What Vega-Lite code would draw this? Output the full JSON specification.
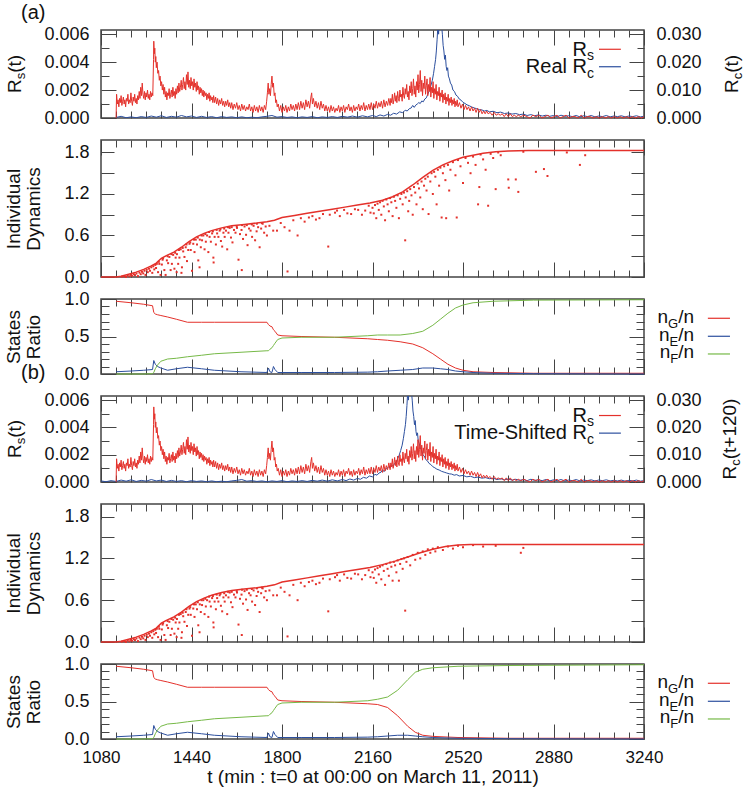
{
"$schema":"https://vega.github.io/schema/vega-lite/v6.json",
"background":"white",
"padding":{"left":4,"top":2,"right":0,"bottom":0},
"config":{
 "view":{"stroke":"#444","strokeWidth":1.5},
 "axis":{"domain":false,"grid":false,"tickColor":"#444","tickWidth":1,"labelFont":"Liberation Sans","labelFontSize":18,"labelColor":"#111","labelFlush":false,"labelOverlap":false,"titleFont":"Liberation Sans","titleFontSize":19,"titleFontWeight":"normal","titleColor":"#111","titleLineHeight":20},
 "scale":{"zero":false},
 "text":{"font":"Liberation Sans","fontSize":19,"color":"#111"}
},
"datasets":{
 "rs":[{"t":1140,"v":0},{"t":1142,"v":0.0017},{"t":1145,"v":0.0010},{"t":1148,"v":0.0013},{"t":1151,"v":0.0008},{"t":1154,"v":0.0014},{"t":1157,"v":0.0011},{"t":1160,"v":0.0016},{"t":1163,"v":0.0009},{"t":1166,"v":0.0012},{"t":1169,"v":0.0015},{"t":1172,"v":0.0010},{"t":1175,"v":0.0013},{"t":1178,"v":0.0008},{"t":1181,"v":0.0014},{"t":1184,"v":0.0012},{"t":1187,"v":0.0017},{"t":1190,"v":0.0010},{"t":1193,"v":0.0013},{"t":1196,"v":0.0011},{"t":1199,"v":0.0018},{"t":1202,"v":0.0012},{"t":1205,"v":0.0009},{"t":1208,"v":0.0015},{"t":1211,"v":0.0012},{"t":1214,"v":0.0017},{"t":1217,"v":0.0011},{"t":1220,"v":0.0014},{"t":1223,"v":0.0010},{"t":1226,"v":0.0016},{"t":1229,"v":0.0013},{"t":1232,"v":0.0019},{"t":1235,"v":0.0014},{"t":1238,"v":0.0022},{"t":1241,"v":0.0016},{"t":1244,"v":0.0025},{"t":1247,"v":0.0017},{"t":1250,"v":0.0014},{"t":1253,"v":0.0019},{"t":1256,"v":0.0013},{"t":1259,"v":0.0018},{"t":1262,"v":0.0015},{"t":1265,"v":0.0020},{"t":1268,"v":0.0014},{"t":1271,"v":0.0017},{"t":1274,"v":0.0013},{"t":1277,"v":0.0019},{"t":1280,"v":0.0015},{"t":1283,"v":0.0018},{"t":1286,"v":0.0016},{"t":1289,"v":0.0042},{"t":1290,"v":0.0055},{"t":1292,"v":0.0046},{"t":1294,"v":0.0050},{"t":1296,"v":0.0040},{"t":1298,"v":0.0044},{"t":1300,"v":0.0036},{"t":1303,"v":0.0040},{"t":1306,"v":0.0032},{"t":1309,"v":0.0034},{"t":1312,"v":0.0027},{"t":1315,"v":0.0030},{"t":1318,"v":0.0023},{"t":1321,"v":0.0026},{"t":1324,"v":0.0020},{"t":1327,"v":0.0024},{"t":1330,"v":0.0017},{"t":1333,"v":0.0022},{"t":1336,"v":0.0015},{"t":1339,"v":0.0019},{"t":1342,"v":0.0013},{"t":1345,"v":0.0018},{"t":1348,"v":0.0016},{"t":1351,"v":0.0021},{"t":1354,"v":0.0014},{"t":1357,"v":0.0017},{"t":1360,"v":0.0020},{"t":1363,"v":0.0015},{"t":1366,"v":0.0022},{"t":1369,"v":0.0016},{"t":1372,"v":0.0019},{"t":1375,"v":0.0014},{"t":1378,"v":0.0021},{"t":1381,"v":0.0017},{"t":1384,"v":0.0023},{"t":1387,"v":0.0018},{"t":1390,"v":0.0025},{"t":1393,"v":0.0019},{"t":1396,"v":0.0022},{"t":1399,"v":0.0027},{"t":1402,"v":0.0020},{"t":1405,"v":0.0024},{"t":1408,"v":0.0029},{"t":1411,"v":0.0021},{"t":1414,"v":0.0026},{"t":1417,"v":0.0020},{"t":1420,"v":0.0031},{"t":1423,"v":0.0024},{"t":1426,"v":0.0033},{"t":1429,"v":0.0022},{"t":1432,"v":0.0027},{"t":1435,"v":0.0021},{"t":1438,"v":0.0029},{"t":1441,"v":0.0023},{"t":1444,"v":0.0026},{"t":1447,"v":0.0020},{"t":1450,"v":0.0028},{"t":1453,"v":0.0022},{"t":1456,"v":0.0025},{"t":1459,"v":0.0019},{"t":1462,"v":0.0026},{"t":1465,"v":0.0020},{"t":1468,"v":0.0023},{"t":1471,"v":0.0017},{"t":1474,"v":0.0022},{"t":1477,"v":0.0018},{"t":1480,"v":0.0021},{"t":1483,"v":0.0016},{"t":1486,"v":0.0020},{"t":1489,"v":0.0015},{"t":1492,"v":0.0019},{"t":1495,"v":0.0016},{"t":1498,"v":0.0018},{"t":1501,"v":0.0013},{"t":1504,"v":0.0017},{"t":1507,"v":0.0014},{"t":1510,"v":0.0018},{"t":1513,"v":0.0012},{"t":1516,"v":0.0016},{"t":1519,"v":0.0013},{"t":1522,"v":0.0015},{"t":1525,"v":0.0011},{"t":1528,"v":0.0016},{"t":1532,"v":0.0011},{"t":1536,"v":0.0015},{"t":1540,"v":0.0010},{"t":1544,"v":0.0014},{"t":1548,"v":0.0009},{"t":1552,"v":0.0013},{"t":1556,"v":0.0010},{"t":1560,"v":0.0014},{"t":1564,"v":0.0009},{"t":1568,"v":0.0012},{"t":1572,"v":0.0008},{"t":1576,"v":0.0012},{"t":1580,"v":0.0009},{"t":1584,"v":0.0013},{"t":1588,"v":0.0008},{"t":1592,"v":0.0011},{"t":1596,"v":0.0007},{"t":1600,"v":0.0011},{"t":1605,"v":0.0006},{"t":1610,"v":0.0010},{"t":1615,"v":0.0007},{"t":1620,"v":0.0011},{"t":1625,"v":0.0006},{"t":1630,"v":0.0009},{"t":1635,"v":0.0005},{"t":1640,"v":0.0010},{"t":1645,"v":0.0006},{"t":1650,"v":0.0009},{"t":1655,"v":0.0005},{"t":1660,"v":0.0008},{"t":1665,"v":0.0006},{"t":1670,"v":0.0010},{"t":1675,"v":0.0005},{"t":1680,"v":0.0008},{"t":1685,"v":0.0004},{"t":1690,"v":0.0009},{"t":1695,"v":0.0005},{"t":1700,"v":0.0008},{"t":1705,"v":0.0004},{"t":1710,"v":0.0009},{"t":1715,"v":0.0005},{"t":1720,"v":0.0008},{"t":1725,"v":0.0004},{"t":1730,"v":0.0009},{"t":1735,"v":0.0006},{"t":1739,"v":0.0012},{"t":1742,"v":0.0018},{"t":1745,"v":0.0025},{"t":1748,"v":0.0017},{"t":1751,"v":0.0021},{"t":1754,"v":0.0016},{"t":1757,"v":0.0024},{"t":1760,"v":0.0030},{"t":1763,"v":0.0022},{"t":1766,"v":0.0025},{"t":1769,"v":0.0016},{"t":1772,"v":0.0018},{"t":1775,"v":0.0011},{"t":1778,"v":0.0013},{"t":1781,"v":0.0008},{"t":1785,"v":0.0010},{"t":1790,"v":0.0005},{"t":1795,"v":0.0009},{"t":1800,"v":0.0004},{"t":1805,"v":0.0008},{"t":1810,"v":0.0005},{"t":1815,"v":0.0009},{"t":1820,"v":0.0004},{"t":1825,"v":0.0008},{"t":1830,"v":0.0005},{"t":1835,"v":0.0010},{"t":1840,"v":0.0006},{"t":1845,"v":0.0009},{"t":1850,"v":0.0005},{"t":1855,"v":0.0010},{"t":1860,"v":0.0006},{"t":1865,"v":0.0011},{"t":1870,"v":0.0006},{"t":1875,"v":0.0012},{"t":1880,"v":0.0007},{"t":1885,"v":0.0011},{"t":1890,"v":0.0006},{"t":1895,"v":0.0013},{"t":1900,"v":0.0008},{"t":1905,"v":0.0012},{"t":1910,"v":0.0007},{"t":1915,"v":0.0015},{"t":1918,"v":0.0018},{"t":1921,"v":0.0010},{"t":1925,"v":0.0014},{"t":1930,"v":0.0008},{"t":1935,"v":0.0012},{"t":1940,"v":0.0007},{"t":1945,"v":0.0011},{"t":1950,"v":0.0006},{"t":1955,"v":0.0012},{"t":1960,"v":0.0007},{"t":1965,"v":0.0010},{"t":1970,"v":0.0005},{"t":1975,"v":0.0009},{"t":1980,"v":0.0005},{"t":1985,"v":0.0008},{"t":1990,"v":0.0004},{"t":1995,"v":0.0009},{"t":2000,"v":0.0005},{"t":2005,"v":0.0008},{"t":2010,"v":0.0004},{"t":2015,"v":0.0007},{"t":2020,"v":0.0005},{"t":2025,"v":0.0009},{"t":2030,"v":0.0004},{"t":2035,"v":0.0008},{"t":2040,"v":0.0005},{"t":2045,"v":0.0009},{"t":2050,"v":0.0004},{"t":2055,"v":0.0008},{"t":2060,"v":0.0006},{"t":2065,"v":0.0010},{"t":2070,"v":0.0005},{"t":2075,"v":0.0008},{"t":2080,"v":0.0004},{"t":2085,"v":0.0009},{"t":2090,"v":0.0005},{"t":2095,"v":0.0008},{"t":2100,"v":0.0006},{"t":2105,"v":0.0010},{"t":2110,"v":0.0005},{"t":2115,"v":0.0009},{"t":2120,"v":0.0006},{"t":2125,"v":0.0011},{"t":2130,"v":0.0005},{"t":2135,"v":0.0009},{"t":2140,"v":0.0006},{"t":2145,"v":0.0010},{"t":2150,"v":0.0006},{"t":2155,"v":0.0011},{"t":2160,"v":0.0006},{"t":2165,"v":0.0010},{"t":2170,"v":0.0007},{"t":2175,"v":0.0012},{"t":2180,"v":0.0007},{"t":2185,"v":0.0011},{"t":2190,"v":0.0008},{"t":2195,"v":0.0012},{"t":2200,"v":0.0007},{"t":2205,"v":0.0013},{"t":2210,"v":0.0008},{"t":2215,"v":0.0012},{"t":2220,"v":0.0009},{"t":2225,"v":0.0014},{"t":2230,"v":0.0009},{"t":2233,"v":0.0014},{"t":2236,"v":0.0011},{"t":2239,"v":0.0017},{"t":2242,"v":0.0010},{"t":2245,"v":0.0013},{"t":2248,"v":0.0018},{"t":2251,"v":0.0012},{"t":2254,"v":0.0016},{"t":2257,"v":0.0011},{"t":2260,"v":0.0019},{"t":2263,"v":0.0014},{"t":2266,"v":0.0012},{"t":2269,"v":0.0020},{"t":2272,"v":0.0015},{"t":2275,"v":0.0017},{"t":2278,"v":0.0012},{"t":2281,"v":0.0022},{"t":2284,"v":0.0016},{"t":2287,"v":0.0014},{"t":2290,"v":0.0021},{"t":2293,"v":0.0017},{"t":2296,"v":0.0024},{"t":2299,"v":0.0015},{"t":2302,"v":0.0019},{"t":2305,"v":0.0013},{"t":2308,"v":0.0023},{"t":2311,"v":0.0018},{"t":2314,"v":0.0026},{"t":2317,"v":0.0016},{"t":2320,"v":0.0021},{"t":2323,"v":0.0028},{"t":2326,"v":0.0017},{"t":2329,"v":0.0023},{"t":2332,"v":0.0015},{"t":2335,"v":0.0026},{"t":2338,"v":0.0020},{"t":2341,"v":0.0031},{"t":2344,"v":0.0018},{"t":2347,"v":0.0024},{"t":2350,"v":0.0034},{"t":2353,"v":0.0019},{"t":2356,"v":0.0027},{"t":2359,"v":0.0016},{"t":2362,"v":0.0025},{"t":2365,"v":0.0021},{"t":2368,"v":0.0030},{"t":2371,"v":0.0017},{"t":2374,"v":0.0023},{"t":2377,"v":0.0028},{"t":2380,"v":0.0016},{"t":2383,"v":0.0024},{"t":2386,"v":0.0019},{"t":2389,"v":0.0029},{"t":2392,"v":0.0015},{"t":2395,"v":0.0022},{"t":2398,"v":0.0018},{"t":2401,"v":0.0026},{"t":2404,"v":0.0014},{"t":2407,"v":0.0021},{"t":2410,"v":0.0017},{"t":2413,"v":0.0024},{"t":2416,"v":0.0013},{"t":2419,"v":0.0019},{"t":2422,"v":0.0016},{"t":2425,"v":0.0022},{"t":2428,"v":0.0012},{"t":2431,"v":0.0018},{"t":2434,"v":0.0015},{"t":2437,"v":0.0020},{"t":2440,"v":0.0011},{"t":2443,"v":0.0017},{"t":2446,"v":0.0013},{"t":2449,"v":0.0018},{"t":2452,"v":0.0010},{"t":2455,"v":0.0015},{"t":2458,"v":0.0012},{"t":2461,"v":0.0017},{"t":2464,"v":0.0009},{"t":2467,"v":0.0014},{"t":2470,"v":0.0011},{"t":2473,"v":0.0015},{"t":2476,"v":0.0009},{"t":2479,"v":0.0013},{"t":2482,"v":0.0010},{"t":2485,"v":0.0014},{"t":2488,"v":0.0008},{"t":2491,"v":0.0012},{"t":2494,"v":0.0009},{"t":2497,"v":0.0013},{"t":2500,"v":0.0008},{"t":2506,"v":0.0011},{"t":2512,"v":0.0007},{"t":2518,"v":0.0010},{"t":2524,"v":0.0006},{"t":2530,"v":0.0009},{"t":2536,"v":0.0006},{"t":2542,"v":0.0008},{"t":2548,"v":0.0005},{"t":2554,"v":0.0008},{"t":2560,"v":0.0005},{"t":2566,"v":0.0007},{"t":2572,"v":0.0004},{"t":2578,"v":0.0007},{"t":2584,"v":0.0004},{"t":2590,"v":0.0006},{"t":2596,"v":0.0003},{"t":2602,"v":0.0005},{"t":2608,"v":0.0003},{"t":2614,"v":0.0005},{"t":2620,"v":0.0003},{"t":2628,"v":0.0004},{"t":2636,"v":0.0002},{"t":2644,"v":0.0004},{"t":2652,"v":0.0002},{"t":2660,"v":0.0003},{"t":2668,"v":0.0002},{"t":2676,"v":0.0003},{"t":2684,"v":0.0001},{"t":2692,"v":0.0003},{"t":2700,"v":0.0001},{"t":2708,"v":0.0003},{"t":2716,"v":0.0001},{"t":2724,"v":0.0002},{"t":2732,"v":0.0001},{"t":2740,"v":0.0002},{"t":2750,"v":0.0001},{"t":2762,"v":0.0002},{"t":2774,"v":0.0001},{"t":2786,"v":0.0000},{"t":2798,"v":0.0002},{"t":2810,"v":0.0001},{"t":2822,"v":0.0002},{"t":2834,"v":0.0000},{"t":2846,"v":0.0001},{"t":2858,"v":0.0002},{"t":2870,"v":0.0000},{"t":2882,"v":0.0001},{"t":2894,"v":0.0002},{"t":2906,"v":0.0000},{"t":2918,"v":0.0001},{"t":2930,"v":0.0002},{"t":2942,"v":0.0000},{"t":2954,"v":0.0001},{"t":2966,"v":0.0001},{"t":2978,"v":0.0000},{"t":2990,"v":0.0002},{"t":3002,"v":0.0000},{"t":3014,"v":0.0001},{"t":3026,"v":0.0001},{"t":3038,"v":0.0000},{"t":3050,"v":0.0001},{"t":3062,"v":0.0000},{"t":3074,"v":0.0001},{"t":3086,"v":0.0000},{"t":3098,"v":0.0001},{"t":3110,"v":0.0000},{"t":3122,"v":0.0001},{"t":3134,"v":0.0000},{"t":3146,"v":0.0001},{"t":3158,"v":0.0000},{"t":3170,"v":0.0001},{"t":3182,"v":0.0000},{"t":3194,"v":0.0001},{"t":3206,"v":0.0000},{"t":3218,"v":0.0001},{"t":3230,"v":0.0000},{"t":3240,"v":0.0001}],
 "rca":[{"t":1140,"v":0.0002},{"t":1160,"v":0.0006},{"t":1180,"v":0.0001},{"t":1200,"v":0.0004},{"t":1220,"v":0.0001},{"t":1240,"v":0.0005},{"t":1260,"v":0.0002},{"t":1280,"v":0.0007},{"t":1300,"v":0.0003},{"t":1320,"v":0.0008},{"t":1340,"v":0.0002},{"t":1360,"v":0.0006},{"t":1380,"v":0.0003},{"t":1400,"v":0.0009},{"t":1420,"v":0.0004},{"t":1440,"v":0.0007},{"t":1460,"v":0.0002},{"t":1480,"v":0.0006},{"t":1500,"v":0.0002},{"t":1520,"v":0.0005},{"t":1540,"v":0.0001},{"t":1560,"v":0.0005},{"t":1580,"v":0.0002},{"t":1600,"v":0.0004},{"t":1620,"v":0.0001},{"t":1640,"v":0.0004},{"t":1660,"v":0.0001},{"t":1680,"v":0.0003},{"t":1700,"v":0.0001},{"t":1720,"v":0.0004},{"t":1740,"v":0.0006},{"t":1760,"v":0.0009},{"t":1780,"v":0.0003},{"t":1800,"v":0.0005},{"t":1820,"v":0.0002},{"t":1840,"v":0.0004},{"t":1860,"v":0.0001},{"t":1880,"v":0.0004},{"t":1900,"v":0.0002},{"t":1920,"v":0.0005},{"t":1940,"v":0.0001},{"t":1960,"v":0.0004},{"t":1980,"v":0.0002},{"t":2000,"v":0.0005},{"t":2020,"v":0.0002},{"t":2040,"v":0.0006},{"t":2060,"v":0.0003},{"t":2080,"v":0.0007},{"t":2100,"v":0.0003},{"t":2120,"v":0.0008},{"t":2140,"v":0.0004},{"t":2160,"v":0.0009},{"t":2175,"v":0.0005},{"t":2190,"v":0.0011},{"t":2205,"v":0.0007},{"t":2220,"v":0.0013},{"t":2232,"v":0.0010},{"t":2244,"v":0.0017},{"t":2256,"v":0.0014},{"t":2268,"v":0.0022},{"t":2280,"v":0.0019},{"t":2290,"v":0.0028},{"t":2298,"v":0.0025},{"t":2306,"v":0.0033},{"t":2314,"v":0.0036},{"t":2320,"v":0.0045},{"t":2326,"v":0.0038},{"t":2332,"v":0.0046},{"t":2338,"v":0.0050},{"t":2344,"v":0.0055},{"t":2350,"v":0.0052},{"t":2356,"v":0.0061},{"t":2362,"v":0.0058},{"t":2368,"v":0.0068},{"t":2374,"v":0.0072},{"t":2380,"v":0.0085},{"t":2386,"v":0.0098},{"t":2392,"v":0.0115},{"t":2398,"v":0.0135},{"t":2403,"v":0.0160},{"t":2407,"v":0.0185},{"t":2411,"v":0.0210},{"t":2414,"v":0.0240},{"t":2417,"v":0.0280},{"t":2420,"v":0.0330},{"t":2423,"v":0.0300},{"t":2426,"v":0.0360},{"t":2429,"v":0.0320},{"t":2432,"v":0.0400},{"t":2435,"v":0.0330},{"t":2438,"v":0.0300},{"t":2441,"v":0.0260},{"t":2444,"v":0.0240},{"t":2447,"v":0.0210},{"t":2450,"v":0.0225},{"t":2453,"v":0.0185},{"t":2456,"v":0.0170},{"t":2459,"v":0.0180},{"t":2462,"v":0.0150},{"t":2466,"v":0.0140},{"t":2470,"v":0.0125},{"t":2475,"v":0.0118},{"t":2480,"v":0.0100},{"t":2486,"v":0.0095},{"t":2492,"v":0.0082},{"t":2498,"v":0.0078},{"t":2505,"v":0.0068},{"t":2512,"v":0.0064},{"t":2520,"v":0.0056},{"t":2528,"v":0.0052},{"t":2536,"v":0.0047},{"t":2545,"v":0.0044},{"t":2555,"v":0.0039},{"t":2565,"v":0.0036},{"t":2575,"v":0.0033},{"t":2585,"v":0.0030},{"t":2595,"v":0.0029},{"t":2605,"v":0.0025},{"t":2615,"v":0.0027},{"t":2625,"v":0.0022},{"t":2640,"v":0.0024},{"t":2655,"v":0.0019},{"t":2670,"v":0.0021},{"t":2685,"v":0.0016},{"t":2700,"v":0.0018},{"t":2715,"v":0.0014},{"t":2730,"v":0.0016},{"t":2745,"v":0.0012},{"t":2760,"v":0.0014},{"t":2775,"v":0.0009},{"t":2790,"v":0.0012},{"t":2805,"v":0.0008},{"t":2820,"v":0.0011},{"t":2835,"v":0.0007},{"t":2850,"v":0.0010},{"t":2865,"v":0.0006},{"t":2880,"v":0.0009},{"t":2895,"v":0.0005},{"t":2910,"v":0.0010},{"t":2925,"v":0.0006},{"t":2940,"v":0.0008},{"t":2955,"v":0.0005},{"t":2970,"v":0.0009},{"t":2985,"v":0.0004},{"t":3000,"v":0.0008},{"t":3015,"v":0.0005},{"t":3030,"v":0.0009},{"t":3045,"v":0.0004},{"t":3060,"v":0.0007},{"t":3075,"v":0.0005},{"t":3090,"v":0.0009},{"t":3105,"v":0.0004},{"t":3120,"v":0.0007},{"t":3135,"v":0.0005},{"t":3150,"v":0.0008},{"t":3165,"v":0.0004},{"t":3180,"v":0.0007},{"t":3195,"v":0.0005},{"t":3210,"v":0.0008},{"t":3225,"v":0.0004},{"t":3240,"v":0.0006}],
 "rcb":[{"t":1080,"v":0.0004},{"t":1100,"v":0.0001},{"t":1120,"v":0.0005},{"t":1140,"v":0.0002},{"t":1160,"v":0.0007},{"t":1180,"v":0.0003},{"t":1200,"v":0.0008},{"t":1220,"v":0.0002},{"t":1240,"v":0.0006},{"t":1260,"v":0.0003},{"t":1280,"v":0.0009},{"t":1300,"v":0.0004},{"t":1320,"v":0.0007},{"t":1340,"v":0.0002},{"t":1360,"v":0.0006},{"t":1380,"v":0.0002},{"t":1400,"v":0.0005},{"t":1420,"v":0.0001},{"t":1440,"v":0.0005},{"t":1460,"v":0.0002},{"t":1480,"v":0.0004},{"t":1500,"v":0.0001},{"t":1520,"v":0.0004},{"t":1540,"v":0.0001},{"t":1560,"v":0.0003},{"t":1580,"v":0.0001},{"t":1600,"v":0.0004},{"t":1620,"v":0.0006},{"t":1640,"v":0.0009},{"t":1660,"v":0.0003},{"t":1680,"v":0.0005},{"t":1700,"v":0.0002},{"t":1720,"v":0.0004},{"t":1740,"v":0.0001},{"t":1760,"v":0.0004},{"t":1780,"v":0.0002},{"t":1800,"v":0.0005},{"t":1820,"v":0.0001},{"t":1840,"v":0.0004},{"t":1860,"v":0.0002},{"t":1880,"v":0.0005},{"t":1900,"v":0.0002},{"t":1920,"v":0.0006},{"t":1940,"v":0.0003},{"t":1960,"v":0.0007},{"t":1980,"v":0.0003},{"t":2000,"v":0.0008},{"t":2020,"v":0.0004},{"t":2040,"v":0.0009},{"t":2055,"v":0.0005},{"t":2070,"v":0.0011},{"t":2085,"v":0.0007},{"t":2100,"v":0.0013},{"t":2112,"v":0.0010},{"t":2124,"v":0.0017},{"t":2136,"v":0.0014},{"t":2148,"v":0.0022},{"t":2160,"v":0.0019},{"t":2170,"v":0.0028},{"t":2178,"v":0.0025},{"t":2186,"v":0.0033},{"t":2194,"v":0.0036},{"t":2200,"v":0.0045},{"t":2206,"v":0.0038},{"t":2212,"v":0.0046},{"t":2218,"v":0.0050},{"t":2224,"v":0.0055},{"t":2230,"v":0.0052},{"t":2236,"v":0.0061},{"t":2242,"v":0.0058},{"t":2248,"v":0.0068},{"t":2254,"v":0.0072},{"t":2260,"v":0.0085},{"t":2266,"v":0.0098},{"t":2272,"v":0.0115},{"t":2278,"v":0.0135},{"t":2283,"v":0.0160},{"t":2287,"v":0.0185},{"t":2291,"v":0.0210},{"t":2294,"v":0.0240},{"t":2297,"v":0.0280},{"t":2300,"v":0.0330},{"t":2303,"v":0.0300},{"t":2306,"v":0.0360},{"t":2309,"v":0.0320},{"t":2312,"v":0.0400},{"t":2315,"v":0.0330},{"t":2318,"v":0.0300},{"t":2321,"v":0.0260},{"t":2324,"v":0.0240},{"t":2327,"v":0.0210},{"t":2330,"v":0.0225},{"t":2333,"v":0.0185},{"t":2336,"v":0.0170},{"t":2339,"v":0.0180},{"t":2342,"v":0.0150},{"t":2346,"v":0.0140},{"t":2350,"v":0.0125},{"t":2355,"v":0.0118},{"t":2360,"v":0.0100},{"t":2366,"v":0.0095},{"t":2372,"v":0.0082},{"t":2378,"v":0.0078},{"t":2385,"v":0.0068},{"t":2392,"v":0.0064},{"t":2400,"v":0.0056},{"t":2408,"v":0.0052},{"t":2416,"v":0.0047},{"t":2425,"v":0.0044},{"t":2435,"v":0.0039},{"t":2445,"v":0.0036},{"t":2455,"v":0.0033},{"t":2465,"v":0.0030},{"t":2475,"v":0.0029},{"t":2485,"v":0.0025},{"t":2495,"v":0.0027},{"t":2505,"v":0.0022},{"t":2520,"v":0.0024},{"t":2535,"v":0.0019},{"t":2550,"v":0.0021},{"t":2565,"v":0.0016},{"t":2580,"v":0.0018},{"t":2595,"v":0.0014},{"t":2610,"v":0.0016},{"t":2625,"v":0.0012},{"t":2640,"v":0.0014},{"t":2655,"v":0.0009},{"t":2670,"v":0.0012},{"t":2685,"v":0.0008},{"t":2700,"v":0.0011},{"t":2715,"v":0.0007},{"t":2730,"v":0.0010},{"t":2745,"v":0.0006},{"t":2760,"v":0.0009},{"t":2775,"v":0.0005},{"t":2790,"v":0.0010},{"t":2805,"v":0.0006},{"t":2820,"v":0.0008},{"t":2835,"v":0.0005},{"t":2850,"v":0.0009},{"t":2865,"v":0.0004},{"t":2880,"v":0.0008},{"t":2895,"v":0.0005},{"t":2910,"v":0.0009},{"t":2925,"v":0.0004},{"t":2940,"v":0.0007},{"t":2955,"v":0.0005},{"t":2970,"v":0.0009},{"t":2985,"v":0.0004},{"t":3000,"v":0.0007},{"t":3015,"v":0.0005},{"t":3030,"v":0.0008},{"t":3045,"v":0.0004},{"t":3060,"v":0.0007},{"t":3075,"v":0.0005},{"t":3090,"v":0.0008},{"t":3105,"v":0.0004},{"t":3120,"v":0.0006},{"t":3135,"v":0.0004},{"t":3150,"v":0.0007},{"t":3165,"v":0.0003},{"t":3180,"v":0.0006},{"t":3195,"v":0.0004},{"t":3210,"v":0.0007},{"t":3225,"v":0.0003},{"t":3240,"v":0.0005}],
 "idaCurve":[{"t":1080,"v":0},{"t":1140,"v":0},{"t":1160,"v":0.01},{"t":1190,"v":0.04},{"t":1220,"v":0.07},{"t":1250,"v":0.11},{"t":1280,"v":0.16},{"t":1300,"v":0.2},{"t":1320,"v":0.27},{"t":1340,"v":0.31},{"t":1370,"v":0.36},{"t":1400,"v":0.43},{"t":1430,"v":0.51},{"t":1460,"v":0.58},{"t":1490,"v":0.63},{"t":1520,"v":0.67},{"t":1560,"v":0.71},{"t":1600,"v":0.74},{"t":1650,"v":0.76},{"t":1700,"v":0.78},{"t":1740,"v":0.8},{"t":1770,"v":0.82},{"t":1800,"v":0.86},{"t":1850,"v":0.89},{"t":1900,"v":0.92},{"t":1950,"v":0.95},{"t":2000,"v":0.98},{"t":2050,"v":1.01},{"t":2100,"v":1.04},{"t":2150,"v":1.07},{"t":2200,"v":1.11},{"t":2240,"v":1.16},{"t":2280,"v":1.23},{"t":2320,"v":1.33},{"t":2360,"v":1.44},{"t":2400,"v":1.54},{"t":2440,"v":1.62},{"t":2480,"v":1.68},{"t":2520,"v":1.73},{"t":2560,"v":1.76},{"t":2600,"v":1.79},{"t":2650,"v":1.81},{"t":2700,"v":1.82},{"t":2780,"v":1.83},{"t":3240,"v":1.83}],
 "idbCurve":[{"t":1080,"v":0},{"t":1140,"v":0},{"t":1160,"v":0.01},{"t":1190,"v":0.04},{"t":1220,"v":0.07},{"t":1250,"v":0.11},{"t":1280,"v":0.16},{"t":1300,"v":0.2},{"t":1320,"v":0.27},{"t":1340,"v":0.31},{"t":1370,"v":0.36},{"t":1400,"v":0.43},{"t":1430,"v":0.51},{"t":1460,"v":0.58},{"t":1490,"v":0.63},{"t":1520,"v":0.67},{"t":1560,"v":0.71},{"t":1600,"v":0.74},{"t":1650,"v":0.76},{"t":1700,"v":0.78},{"t":1740,"v":0.8},{"t":1770,"v":0.82},{"t":1800,"v":0.86},{"t":1850,"v":0.89},{"t":1900,"v":0.92},{"t":1950,"v":0.95},{"t":2000,"v":0.98},{"t":2050,"v":1.01},{"t":2100,"v":1.04},{"t":2150,"v":1.07},{"t":2200,"v":1.11},{"t":2250,"v":1.16},{"t":2300,"v":1.22},{"t":2350,"v":1.28},{"t":2400,"v":1.33},{"t":2450,"v":1.37},{"t":2500,"v":1.39},{"t":2550,"v":1.4},{"t":3240,"v":1.4}],
 "idEarly":[{"t":1163,"v":0.004},{"t":1172,"v":0.012},{"t":1179,"v":0.0},{"t":1186,"v":0.022},{"t":1193,"v":0.01},{"t":1199,"v":0.03},{"t":1204,"v":0.017},{"t":1210,"v":0.042},{"t":1215,"v":0.028},{"t":1221,"v":0.05},{"t":1227,"v":0.013},{"t":1233,"v":0.064},{"t":1238,"v":0.04},{"t":1243,"v":0.075},{"t":1248,"v":0.052},{"t":1253,"v":0.09},{"t":1257,"v":0.03},{"t":1262,"v":0.105},{"t":1266,"v":0.07},{"t":1271,"v":0.12},{"t":1275,"v":0.09},{"t":1280,"v":0.14},{"t":1284,"v":0.06},{"t":1288,"v":0.155},{"t":1292,"v":0.11},{"t":1296,"v":0.175},{"t":1299,"v":0.13},{"t":1302,"v":0.19},{"t":1307,"v":0.07},{"t":1310,"v":0.22},{"t":1312,"v":0.19},{"t":1317,"v":0.03},{"t":1322,"v":0.18},{"t":1325,"v":0.25},{"t":1327,"v":0.27},{"t":1332,"v":0.1},{"t":1337,"v":0.03},{"t":1342,"v":0.24},{"t":1345,"v":0.3},{"t":1347,"v":0.2},{"t":1352,"v":0.29},{"t":1357,"v":0.1},{"t":1360,"v":0.33},{"t":1362,"v":0.19},{"t":1367,"v":0.32},{"t":1372,"v":0.12},{"t":1375,"v":0.35},{"t":1377,"v":0.28},{"t":1381,"v":0.07},{"t":1382,"v":0.33},{"t":1387,"v":0.19},{"t":1390,"v":0.39},{"t":1392,"v":0.28},{"t":1397,"v":0.4},{"t":1400,"v":0.06},{"t":1402,"v":0.14},{"t":1405,"v":0.42},{"t":1407,"v":0.37},{"t":1412,"v":0.29},{"t":1417,"v":0.43},{"t":1420,"v":0.47},{"t":1422,"v":0.23},{"t":1427,"v":0.39},{"t":1432,"v":0.48},{"t":1435,"v":0.5},{"t":1437,"v":0.39},{"t":1442,"v":0.09},{"t":1447,"v":0.48},{"t":1450,"v":0.54},{"t":1452,"v":0.36},{"t":1457,"v":0.54},{"t":1462,"v":0.47},{"t":1465,"v":0.57},{"t":1467,"v":0.24},{"t":1472,"v":0.14},{"t":1473,"v":0.54},{"t":1477,"v":0.43},{"t":1480,"v":0.6},{"t":1482,"v":0.53},{"t":1487,"v":0.6},{"t":1492,"v":0.4},{"t":1495,"v":0.62},{"t":1497,"v":0.51},{"t":1502,"v":0.6},{"t":1507,"v":0.36},{"t":1510,"v":0.65},{"t":1512,"v":0.58},{"t":1517,"v":0.51},{"t":1522,"v":0.63},{"t":1525,"v":0.66},{"t":1527,"v":0.28},{"t":1528,"v":0.21},{"t":1532,"v":0.58},{"t":1537,"v":0.47},{"t":1540,"v":0.68},{"t":1542,"v":0.63},{"t":1547,"v":0.58},{"t":1552,"v":0.67},{"t":1555,"v":0.69},{"t":1557,"v":0.52},{"t":1562,"v":0.44},{"t":1567,"v":0.64},{"t":1570,"v":0.7},{"t":1572,"v":0.58},{"t":1577,"v":0.67},{"t":1582,"v":0.4},{"t":1585,"v":0.72},{"t":1587,"v":0.64},{"t":1592,"v":0.71},{"t":1597,"v":0.57},{"t":1600,"v":0.72},{"t":1603,"v":0.5},{"t":1609,"v":0.68},{"t":1615,"v":0.64},{"t":1620,"v":0.73},{"t":1621,"v":0.71},{"t":1627,"v":0.25},{"t":1633,"v":0.62},{"t":1639,"v":0.68},{"t":1640,"v":0.1},{"t":1641,"v":0.75},{"t":1645,"v":0.55},{"t":1651,"v":0.73},{"t":1657,"v":0.61},{"t":1660,"v":0.75},{"t":1663,"v":0.46},{"t":1669,"v":0.7},{"t":1675,"v":0.67},{"t":1680,"v":0.76},{"t":1681,"v":0.58},{"t":1687,"v":0.74},{"t":1693,"v":0.53},{"t":1699,"v":0.66},{"t":1700,"v":0.77},{"t":1705,"v":0.72},{"t":1711,"v":0.43},{"t":1717,"v":0.7},{"t":1720,"v":0.78},{"t":1723,"v":0.77},{"t":1729,"v":0.64},{"t":1735,"v":0.73},{"t":1740,"v":0.6},{"t":1750,"v":0.74},{"t":1765,"v":0.67},{"t":1780,"v":0.67},{"t":1795,"v":0.78},{"t":1810,"v":0.72},{"t":1822,"v":0.08},{"t":1830,"v":0.67},{"t":1845,"v":0.82},{"t":1862,"v":0.6},{"t":1875,"v":0.85},{"t":1890,"v":0.8},{"t":1907,"v":0.86},{"t":1921,"v":0.88},{"t":1935,"v":0.83},{"t":1949,"v":0.85},{"t":1963,"v":0.91},{"t":1984,"v":0.44},{"t":1990,"v":0.9},{"t":2011,"v":0.93},{"t":2019,"v":0.96},{"t":2030,"v":0.88},{"t":2047,"v":0.97},{"t":2060,"v":0.92},{"t":2075,"v":0.91},{"t":2090,"v":0.98},{"t":2103,"v":0.97},{"t":2118,"v":0.9},{"t":2131,"v":0.96},{"t":2145,"v":1.03},{"t":2152,"v":0.93}],
 "idaLate":[{"t":2160,"v":1.0},{"t":2165,"v":0.92},{"t":2170,"v":1.04},{"t":2175,"v":0.85},{"t":2180,"v":1.06},{"t":2185,"v":0.97},{"t":2190,"v":1.08},{"t":2195,"v":0.9},{"t":2200,"v":1.1},{"t":2205,"v":1.02},{"t":2210,"v":0.82},{"t":2215,"v":1.12},{"t":2220,"v":1.05},{"t":2225,"v":0.95},{"t":2230,"v":1.14},{"t":2235,"v":1.08},{"t":2240,"v":0.88},{"t":2245,"v":1.16},{"t":2250,"v":1.1},{"t":2255,"v":1.0},{"t":2260,"v":1.18},{"t":2265,"v":0.85},{"t":2270,"v":1.13},{"t":2275,"v":1.2},{"t":2280,"v":1.05},{"t":2285,"v":1.22},{"t":2290,"v":0.53},{"t":2292,"v":1.15},{"t":2298,"v":1.24},{"t":2302,"v":0.95},{"t":2306,"v":1.1},{"t":2310,"v":1.27},{"t":2315,"v":1.18},{"t":2320,"v":0.9},{"t":2325,"v":1.3},{"t":2330,"v":1.22},{"t":2335,"v":1.05},{"t":2340,"v":1.35},{"t":2345,"v":1.28},{"t":2350,"v":1.15},{"t":2355,"v":1.38},{"t":2360,"v":0.98},{"t":2365,"v":1.32},{"t":2370,"v":1.42},{"t":2375,"v":1.25},{"t":2380,"v":1.45},{"t":2383,"v":0.91},{"t":2390,"v":1.38},{"t":2395,"v":1.5},{"t":2400,"v":1.2},{"t":2405,"v":1.52},{"t":2410,"v":1.45},{"t":2415,"v":1.05},{"t":2420,"v":1.55},{"t":2425,"v":1.32},{"t":2430,"v":1.58},{"t":2435,"v":0.86},{"t":2440,"v":1.5},{"t":2445,"v":1.6},{"t":2450,"v":1.4},{"t":2453,"v":0.85},{"t":2460,"v":1.62},{"t":2465,"v":1.25},{"t":2470,"v":1.55},{"t":2480,"v":1.66},{"t":2490,"v":1.47},{"t":2495,"v":0.86},{"t":2500,"v":1.69},{"t":2510,"v":1.6},{"t":2520,"v":1.36},{"t":2530,"v":1.72},{"t":2540,"v":1.65},{"t":2550,"v":1.5},{"t":2560,"v":1.74},{"t":2570,"v":1.62},{"t":2580,"v":1.05},{"t":2585,"v":1.3},{"t":2590,"v":1.77},{"t":2600,"v":1.7},{"t":2610,"v":1.55},{"t":2620,"v":1.03},{"t":2630,"v":1.78},{"t":2640,"v":1.72},{"t":2650,"v":1.27},{"t":2660,"v":1.8},{"t":2670,"v":1.76},{"t":2700,"v":1.41},{"t":2702,"v":1.29},{"t":2730,"v":1.41},{"t":2740,"v":1.23},{"t":2760,"v":1.81},{"t":2810,"v":1.52},{"t":2842,"v":1.56},{"t":2856,"v":1.46},{"t":2933,"v":1.8},{"t":2985,"v":1.62},{"t":3006,"v":1.76}],
 "idbLate":[{"t":2160,"v":1.0},{"t":2165,"v":0.92},{"t":2170,"v":1.04},{"t":2175,"v":0.85},{"t":2180,"v":1.06},{"t":2185,"v":0.97},{"t":2190,"v":1.08},{"t":2195,"v":0.9},{"t":2200,"v":1.1},{"t":2205,"v":1.02},{"t":2210,"v":0.82},{"t":2215,"v":1.12},{"t":2220,"v":1.05},{"t":2225,"v":0.95},{"t":2230,"v":1.14},{"t":2235,"v":1.08},{"t":2240,"v":0.88},{"t":2245,"v":1.15},{"t":2250,"v":1.1},{"t":2255,"v":1.0},{"t":2260,"v":1.17},{"t":2265,"v":0.88},{"t":2270,"v":1.12},{"t":2275,"v":1.19},{"t":2280,"v":1.05},{"t":2285,"v":1.2},{"t":2290,"v":0.45},{"t":2295,"v":1.15},{"t":2300,"v":1.22},{"t":2310,"v":1.1},{"t":2320,"v":1.25},{"t":2330,"v":1.18},{"t":2340,"v":1.28},{"t":2350,"v":1.2},{"t":2360,"v":1.3},{"t":2370,"v":1.25},{"t":2380,"v":1.33},{"t":2390,"v":1.28},{"t":2400,"v":1.34},{"t":2410,"v":1.3},{"t":2420,"v":1.36},{"t":2440,"v":1.32},{"t":2460,"v":1.37},{"t":2480,"v":1.34},{"t":2500,"v":1.38},{"t":2520,"v":1.36},{"t":2560,"v":1.39},{"t":2600,"v":1.37},{"t":2650,"v":1.38},{"t":2750,"v":1.28},{"t":2760,"v":1.35}],
 "sra":[{"t":1140,"g":0.97,"e":0.03,"f":0.0},{"t":1200,"g":0.95,"e":0.04,"f":0.0},{"t":1250,"g":0.93,"e":0.05,"f":0.0},{"t":1285,"g":0.91,"e":0.06,"f":0.005},{"t":1290,"g":0.82,"e":0.18,"f":0.02},{"t":1296,"g":0.8,"e":0.13,"f":0.07},{"t":1305,"g":0.79,"e":0.1,"f":0.12},{"t":1318,"g":0.78,"e":0.08,"f":0.17},{"t":1345,"g":0.76,"e":0.05,"f":0.2},{"t":1380,"g":0.73,"e":0.07,"f":0.21},{"t":1424,"g":0.69,"e":0.09,"f":0.23},{"t":1480,"g":0.69,"e":0.07,"f":0.25},{"t":1531,"g":0.69,"e":0.05,"f":0.27},{"t":1637,"g":0.69,"e":0.03,"f":0.29},{"t":1740,"g":0.69,"e":0.02,"f":0.31},{"t":1746,"g":0.66,"e":0.08,"f":0.31},{"t":1752,"g":0.64,"e":0.03,"f":0.33},{"t":1760,"g":0.63,"e":0.02,"f":0.35},{"t":1766,"g":0.59,"e":0.1,"f":0.38},{"t":1772,"g":0.57,"e":0.06,"f":0.41},{"t":1783,"g":0.52,"e":0.02,"f":0.46},{"t":1800,"g":0.51,"e":0.02,"f":0.48},{"t":1876,"g":0.5,"e":0.02,"f":0.49},{"t":2009,"g":0.49,"e":0.02,"f":0.49},{"t":2141,"g":0.47,"e":0.025,"f":0.51},{"t":2180,"g":0.46,"e":0.03,"f":0.52},{"t":2220,"g":0.45,"e":0.04,"f":0.52},{"t":2270,"g":0.43,"e":0.05,"f":0.52},{"t":2320,"g":0.4,"e":0.06,"f":0.54},{"t":2360,"g":0.35,"e":0.08,"f":0.57},{"t":2400,"g":0.27,"e":0.08,"f":0.65},{"t":2430,"g":0.2,"e":0.07,"f":0.73},{"t":2460,"g":0.13,"e":0.06,"f":0.81},{"t":2490,"g":0.08,"e":0.04,"f":0.88},{"t":2520,"g":0.05,"e":0.03,"f":0.92},{"t":2560,"g":0.03,"e":0.02,"f":0.95},{"t":2640,"g":0.02,"e":0.01,"f":0.97},{"t":2800,"g":0.01,"e":0.005,"f":0.985},{"t":3240,"g":0.01,"e":0.0,"f":0.99}],
 "srb":[{"t":1140,"g":0.97,"e":0.03,"f":0.0},{"t":1200,"g":0.95,"e":0.04,"f":0.0},{"t":1250,"g":0.93,"e":0.05,"f":0.0},{"t":1285,"g":0.91,"e":0.06,"f":0.005},{"t":1290,"g":0.82,"e":0.18,"f":0.02},{"t":1296,"g":0.8,"e":0.13,"f":0.07},{"t":1305,"g":0.79,"e":0.1,"f":0.12},{"t":1318,"g":0.78,"e":0.08,"f":0.17},{"t":1345,"g":0.76,"e":0.05,"f":0.2},{"t":1380,"g":0.73,"e":0.07,"f":0.21},{"t":1424,"g":0.69,"e":0.09,"f":0.23},{"t":1480,"g":0.69,"e":0.07,"f":0.25},{"t":1531,"g":0.69,"e":0.05,"f":0.27},{"t":1637,"g":0.69,"e":0.03,"f":0.29},{"t":1740,"g":0.69,"e":0.02,"f":0.31},{"t":1746,"g":0.66,"e":0.08,"f":0.31},{"t":1752,"g":0.64,"e":0.03,"f":0.33},{"t":1760,"g":0.63,"e":0.02,"f":0.35},{"t":1766,"g":0.59,"e":0.1,"f":0.38},{"t":1772,"g":0.57,"e":0.06,"f":0.41},{"t":1783,"g":0.52,"e":0.02,"f":0.46},{"t":1800,"g":0.51,"e":0.02,"f":0.48},{"t":1876,"g":0.5,"e":0.02,"f":0.49},{"t":2009,"g":0.49,"e":0.02,"f":0.49},{"t":2141,"g":0.47,"e":0.025,"f":0.51},{"t":2180,"g":0.46,"e":0.03,"f":0.53},{"t":2220,"g":0.42,"e":0.04,"f":0.56},{"t":2260,"g":0.31,"e":0.05,"f":0.65},{"t":2300,"g":0.17,"e":0.05,"f":0.79},{"t":2330,"g":0.09,"e":0.04,"f":0.89},{"t":2360,"g":0.05,"e":0.03,"f":0.93},{"t":2400,"g":0.035,"e":0.02,"f":0.95},{"t":2500,"g":0.02,"e":0.01,"f":0.97},{"t":2700,"g":0.01,"e":0.005,"f":0.98},{"t":3240,"g":0.01,"e":0.0,"f":0.99}]
},
"spacing":22,
"bounds":"flush",
"vconcat":[
  {"width":543,"height":88,
   "layer":[
    {"data":{"name":"rca"},"mark":{"type":"line","color":"#2c4f9e","strokeWidth":1,"clip":true},
     "encoding":{"x":{"field":"t","type":"quantitative","scale":{"domain":[1080,3240],"nice":false},"axis":{"orient":"top","values":[1080,1140,1200,1260,1320,1380,1440,1500,1560,1620,1680,1740,1800,1860,1920,1980,2040,2100,2160,2220,2280,2340,2400,2460,2520,2580,2640,2700,2760,2820,2880,2940,3000,3060,3120,3180,3240],"labels":false,"title":null,"tickSize":{"condition":{"test":"datum.value % 360 === 0","value":-15},"value":-7}}},
      "y":{"field":"v","type":"quantitative","scale":{"domain":[0,0.0315],"nice":false},"axis":{"orient":"right","values":[0,0.005,0.01,0.015,0.02,0.025,0.03],"format":".3f","labelExpr":"round(datum.value*1000) % 10 === 0 ? datum.label : ''","labelPadding":27,"title":null,"tickSize":{"condition":{"test":"round(datum.value*1000) % 10 === 0","value":-15},"value":-7}}}}},
    {"data":{"name":"rs"},"mark":{"type":"line","color":"#e4312b","strokeWidth":1},
     "encoding":{"x":{"field":"t","type":"quantitative","scale":{"domain":[1080,3240],"nice":false},"axis":{"orient":"bottom","values":[1080,1140,1200,1260,1320,1380,1440,1500,1560,1620,1680,1740,1800,1860,1920,1980,2040,2100,2160,2220,2280,2340,2400,2460,2520,2580,2640,2700,2760,2820,2880,2940,3000,3060,3120,3180,3240],"labels":false,"title":null,"tickSize":{"condition":{"test":"datum.value % 360 === 0","value":-15},"value":-7}}},
      "y":{"field":"v","type":"quantitative","scale":{"domain":[0,0.0063],"nice":false},"axis":{"orient":"left","values":[0,0.001,0.002,0.003,0.004,0.005,0.006],"format":".3f","labelExpr":"round(datum.value*1000) % 2 === 0 ? datum.label : ''","labelPadding":27,"title":null,"tickSize":{"condition":{"test":"round(datum.value*1000) % 2 === 0","value":-15},"value":-8}}}}},
    {"data":{"values":[{}]},"mark":{"type":"rule","color":"#e4312b","strokeWidth":1.2},"encoding":{"x":{"datum":3061,"type":"quantitative","scale":{"domain":[1080,3240],"nice":false},"axis":null},"x2":{"datum":3148},"y":{"datum":0.00492,"type":"quantitative","scale":{"domain":[0,0.0063],"nice":false},"axis":null}}},
    {"data":{"values":[{}]},"mark":{"type":"rule","color":"#2c4f9e","strokeWidth":1.2},"encoding":{"x":{"datum":3061,"type":"quantitative","scale":{"domain":[1080,3240],"nice":false},"axis":null},"x2":{"datum":3148},"y":{"datum":0.00367,"type":"quantitative","scale":{"domain":[0,0.0063],"nice":false},"axis":null}}},
    {"data":{"values":[{}]},"mark":{"type":"text","text":"R","align":"right","baseline":"alphabetic","fontSize":20,"dx":-7},"encoding":{"x":{"datum":3041,"type":"quantitative","scale":{"domain":[1080,3240],"nice":false},"axis":null},"y":{"datum":0.00444,"type":"quantitative","scale":{"domain":[0,0.0063],"nice":false},"axis":null}}},
    {"data":{"values":[{}]},"mark":{"type":"text","text":"s","align":"right","baseline":"alphabetic","fontSize":14,"dy":4},"encoding":{"x":{"datum":3041,"type":"quantitative","scale":{"domain":[1080,3240],"nice":false},"axis":null},"y":{"datum":0.00444,"type":"quantitative","scale":{"domain":[0,0.0063],"nice":false},"axis":null}}},
    {"data":{"values":[{}]},"mark":{"type":"text","text":"Real R","align":"right","baseline":"alphabetic","fontSize":20,"dx":-7},"encoding":{"x":{"datum":3041,"type":"quantitative","scale":{"domain":[1080,3240],"nice":false},"axis":null},"y":{"datum":0.00324,"type":"quantitative","scale":{"domain":[0,0.0063],"nice":false},"axis":null}}},
    {"data":{"values":[{}]},"mark":{"type":"text","text":"c","align":"right","baseline":"alphabetic","fontSize":14,"dy":5},"encoding":{"x":{"datum":3041,"type":"quantitative","scale":{"domain":[1080,3240],"nice":false},"axis":null},"y":{"datum":0.00324,"type":"quantitative","scale":{"domain":[0,0.0063],"nice":false},"axis":null}}},
    {"data":{"values":[{}]},"mark":{"type":"text","text":"(a)","align":"left","baseline":"alphabetic","fontSize":20},"encoding":{"x":{"datum":762,"type":"quantitative","scale":{"domain":[1080,3240],"nice":false},"axis":null},"y":{"datum":0.0071,"type":"quantitative","scale":{"domain":[0,0.0063],"nice":false},"axis":null}}},
    {"data":{"values":[{}]},"mark":{"type":"text","text":"R","align":"left","baseline":"alphabetic","fontSize":19,"angle":270,"dx":-19},"encoding":{"x":{"datum":762,"type":"quantitative","scale":{"domain":[1080,3240],"nice":false},"axis":null},"y":{"datum":0.00315,"type":"quantitative","scale":{"domain":[0,0.0063],"nice":false},"axis":null}}},
    {"data":{"values":[{}]},"mark":{"type":"text","text":"s","align":"left","baseline":"alphabetic","fontSize":13,"angle":270,"dx":-5.3,"dy":4},"encoding":{"x":{"datum":762,"type":"quantitative","scale":{"domain":[1080,3240],"nice":false},"axis":null},"y":{"datum":0.00315,"type":"quantitative","scale":{"domain":[0,0.0063],"nice":false},"axis":null}}},
    {"data":{"values":[{}]},"mark":{"type":"text","text":"(t)","align":"left","baseline":"alphabetic","fontSize":19,"angle":270,"dx":1.2},"encoding":{"x":{"datum":762,"type":"quantitative","scale":{"domain":[1080,3240],"nice":false},"axis":null},"y":{"datum":0.00315,"type":"quantitative","scale":{"domain":[0,0.0063],"nice":false},"axis":null}}},
    {"data":{"values":[{}]},"mark":{"type":"text","text":"R","align":"left","baseline":"alphabetic","fontSize":19,"angle":270,"dx":-19},"encoding":{"x":{"datum":3615,"type":"quantitative","scale":{"domain":[1080,3240],"nice":false},"axis":null},"y":{"datum":0.00315,"type":"quantitative","scale":{"domain":[0,0.0063],"nice":false},"axis":null}}},
    {"data":{"values":[{}]},"mark":{"type":"text","text":"c","align":"left","baseline":"alphabetic","fontSize":13,"angle":270,"dx":-5.3,"dy":4},"encoding":{"x":{"datum":3615,"type":"quantitative","scale":{"domain":[1080,3240],"nice":false},"axis":null},"y":{"datum":0.00315,"type":"quantitative","scale":{"domain":[0,0.0063],"nice":false},"axis":null}}},
    {"data":{"values":[{}]},"mark":{"type":"text","text":"(t)","align":"left","baseline":"alphabetic","fontSize":19,"angle":270,"dx":1.2},"encoding":{"x":{"datum":3615,"type":"quantitative","scale":{"domain":[1080,3240],"nice":false},"axis":null},"y":{"datum":0.00315,"type":"quantitative","scale":{"domain":[0,0.0063],"nice":false},"axis":null}}}
   ],
   "resolve":{"scale":{"y":"independent"},"axis":{"x":"independent","y":"independent"}}
  },
  {"width":543,"height":137,
   "layer":[
    {"data":{"name":"idEarly"},"mark":{"type":"square","size":4,"color":"#e4312b","opacity":1},
     "encoding":{"x":{"field":"t","type":"quantitative","scale":{"domain":[1080,3240],"nice":false},"axis":{"orient":"bottom","values":[1080,1140,1200,1260,1320,1380,1440,1500,1560,1620,1680,1740,1800,1860,1920,1980,2040,2100,2160,2220,2280,2340,2400,2460,2520,2580,2640,2700,2760,2820,2880,2940,3000,3060,3120,3180,3240],"labels":false,"title":null,"tickSize":{"condition":{"test":"datum.value % 360 === 0","value":-15},"value":-7}}},
      "y":{"field":"v","type":"quantitative","scale":{"domain":[0,1.98],"nice":false},"axis":{"orient":"left","values":[0,0.3,0.6,0.9,1.2,1.5,1.8],"format":".1f","labelExpr":"round(datum.value*10) % 6 === 0 ? datum.label : ''","labelPadding":25,"tickSize":-13,"title":["Individual","Dynamics"],"titlePadding":20}}}},
    {"data":{"name":"idaLate"},"mark":{"type":"square","size":4,"color":"#e4312b","opacity":1},
     "encoding":{"x":{"field":"t","type":"quantitative","scale":{"domain":[1080,3240],"nice":false},"axis":null},"y":{"field":"v","type":"quantitative","scale":{"domain":[0,1.98],"nice":false},"axis":null}}},
    {"data":{"name":"idaCurve"},"mark":{"type":"line","color":"#e4312b","strokeWidth":1.5},
     "encoding":{"x":{"field":"t","type":"quantitative","scale":{"domain":[1080,3240],"nice":false},"axis":{"orient":"top","values":[1080,1140,1200,1260,1320,1380,1440,1500,1560,1620,1680,1740,1800,1860,1920,1980,2040,2100,2160,2220,2280,2340,2400,2460,2520,2580,2640,2700,2760,2820,2880,2940,3000,3060,3120,3180,3240],"labels":false,"title":null,"tickSize":{"condition":{"test":"datum.value % 360 === 0","value":-15},"value":-7}}},
      "y":{"field":"v","type":"quantitative","scale":{"domain":[0,1.98],"nice":false},"axis":{"orient":"right","values":[0,0.3,0.6,0.9,1.2,1.5,1.8],"labels":false,"tickSize":-13,"title":null}}}}
   ],
   "resolve":{"axis":{"x":"independent","y":"independent"}}
  },
  {"width":543,"height":75,
   "layer":[
    {"data":{"name":"sra"},"mark":{"type":"line","color":"#e4312b","strokeWidth":1},
     "encoding":{"x":{"field":"t","type":"quantitative","scale":{"domain":[1080,3240],"nice":false},"axis":{"orient":"bottom","values":[1080,1140,1200,1260,1320,1380,1440,1500,1560,1620,1680,1740,1800,1860,1920,1980,2040,2100,2160,2220,2280,2340,2400,2460,2520,2580,2640,2700,2760,2820,2880,2940,3000,3060,3120,3180,3240],"labels":false,"title":null,"tickSize":{"condition":{"test":"datum.value % 360 === 0","value":-15},"value":-7}}},
      "y":{"field":"g","type":"quantitative","scale":{"domain":[0,1],"nice":false},"axis":{"orient":"left","values":[0,0.1,0.2,0.3,0.4,0.5,0.6,0.7,0.8,0.9,1],"format":".1f","labelExpr":"round(datum.value*10) % 5 === 0 ? datum.label : ''","labelPadding":27,"tickSize":{"condition":{"test":"round(datum.value*10) % 5 === 0","value":-15},"value":-8},"title":["States","Ratio"],"titlePadding":20}}}},
    {"data":{"name":"sra"},"mark":{"type":"line","color":"#2c4f9e","strokeWidth":1},
     "encoding":{"x":{"field":"t","type":"quantitative","scale":{"domain":[1080,3240],"nice":false},"axis":{"orient":"top","values":[1080,1140,1200,1260,1320,1380,1440,1500,1560,1620,1680,1740,1800,1860,1920,1980,2040,2100,2160,2220,2280,2340,2400,2460,2520,2580,2640,2700,2760,2820,2880,2940,3000,3060,3120,3180,3240],"labels":false,"title":null,"tickSize":{"condition":{"test":"datum.value % 360 === 0","value":-15},"value":-7}}},
      "y":{"field":"e","type":"quantitative","scale":{"domain":[0,1],"nice":false},"axis":{"orient":"right","values":[0,0.1,0.2,0.3,0.4,0.5,0.6,0.7,0.8,0.9,1],"labels":false,"title":null,"tickSize":{"condition":{"test":"round(datum.value*10) % 5 === 0","value":-15},"value":-8}}}}},
    {"data":{"name":"sra"},"mark":{"type":"line","color":"#76b947","strokeWidth":1},
     "encoding":{"x":{"field":"t","type":"quantitative","scale":{"domain":[1080,3240],"nice":false},"axis":null},"y":{"field":"f","type":"quantitative","scale":{"domain":[0,1],"nice":false},"axis":null}}},
    {"data":{"values":[{}]},"mark":{"type":"rule","color":"#e4312b","strokeWidth":1.2},"encoding":{"x":{"datum":3494,"type":"quantitative","scale":{"domain":[1080,3240],"nice":false},"axis":null},"x2":{"datum":3582},"y":{"datum":0.743,"type":"quantitative","scale":{"domain":[0,1],"nice":false},"axis":null}}},
    {"data":{"values":[{}]},"mark":{"type":"rule","color":"#2c4f9e","strokeWidth":1.2},"encoding":{"x":{"datum":3494,"type":"quantitative","scale":{"domain":[1080,3240],"nice":false},"axis":null},"x2":{"datum":3582},"y":{"datum":0.503,"type":"quantitative","scale":{"domain":[0,1],"nice":false},"axis":null}}},
    {"data":{"values":[{}]},"mark":{"type":"rule","color":"#76b947","strokeWidth":1.2},"encoding":{"x":{"datum":3494,"type":"quantitative","scale":{"domain":[1080,3240],"nice":false},"axis":null},"x2":{"datum":3582},"y":{"datum":0.267,"type":"quantitative","scale":{"domain":[0,1],"nice":false},"axis":null}}},
    {"data":{"values":[{}]},"mark":{"type":"text","text":"n","align":"right","baseline":"alphabetic","fontSize":19,"dx":-26},"encoding":{"x":{"datum":3439,"type":"quantitative","scale":{"domain":[1080,3240],"nice":false},"axis":null},"y":{"datum":0.676,"type":"quantitative","scale":{"domain":[0,1],"nice":false},"axis":null}}},
    {"data":{"values":[{}]},"mark":{"type":"text","text":"G","align":"right","baseline":"alphabetic","fontSize":13,"dx":-15.8,"dy":5},"encoding":{"x":{"datum":3439,"type":"quantitative","scale":{"domain":[1080,3240],"nice":false},"axis":null},"y":{"datum":0.676,"type":"quantitative","scale":{"domain":[0,1],"nice":false},"axis":null}}},
    {"data":{"values":[{}]},"mark":{"type":"text","text":"/n","align":"right","baseline":"alphabetic","fontSize":19},"encoding":{"x":{"datum":3439,"type":"quantitative","scale":{"domain":[1080,3240],"nice":false},"axis":null},"y":{"datum":0.676,"type":"quantitative","scale":{"domain":[0,1],"nice":false},"axis":null}}},
    {"data":{"values":[{}]},"mark":{"type":"text","text":"n","align":"right","baseline":"alphabetic","fontSize":19,"dx":-24.5},"encoding":{"x":{"datum":3439,"type":"quantitative","scale":{"domain":[1080,3240],"nice":false},"axis":null},"y":{"datum":0.444,"type":"quantitative","scale":{"domain":[0,1],"nice":false},"axis":null}}},
    {"data":{"values":[{}]},"mark":{"type":"text","text":"E","align":"right","baseline":"alphabetic","fontSize":13,"dx":-15.8,"dy":5},"encoding":{"x":{"datum":3439,"type":"quantitative","scale":{"domain":[1080,3240],"nice":false},"axis":null},"y":{"datum":0.444,"type":"quantitative","scale":{"domain":[0,1],"nice":false},"axis":null}}},
    {"data":{"values":[{}]},"mark":{"type":"text","text":"/n","align":"right","baseline":"alphabetic","fontSize":19},"encoding":{"x":{"datum":3439,"type":"quantitative","scale":{"domain":[1080,3240],"nice":false},"axis":null},"y":{"datum":0.444,"type":"quantitative","scale":{"domain":[0,1],"nice":false},"axis":null}}},
    {"data":{"values":[{}]},"mark":{"type":"text","text":"n","align":"right","baseline":"alphabetic","fontSize":19,"dx":-23.7},"encoding":{"x":{"datum":3439,"type":"quantitative","scale":{"domain":[1080,3240],"nice":false},"axis":null},"y":{"datum":0.213,"type":"quantitative","scale":{"domain":[0,1],"nice":false},"axis":null}}},
    {"data":{"values":[{}]},"mark":{"type":"text","text":"F","align":"right","baseline":"alphabetic","fontSize":13,"dx":-15.8,"dy":5},"encoding":{"x":{"datum":3439,"type":"quantitative","scale":{"domain":[1080,3240],"nice":false},"axis":null},"y":{"datum":0.213,"type":"quantitative","scale":{"domain":[0,1],"nice":false},"axis":null}}},
    {"data":{"values":[{}]},"mark":{"type":"text","text":"/n","align":"right","baseline":"alphabetic","fontSize":19},"encoding":{"x":{"datum":3439,"type":"quantitative","scale":{"domain":[1080,3240],"nice":false},"axis":null},"y":{"datum":0.213,"type":"quantitative","scale":{"domain":[0,1],"nice":false},"axis":null}}}
   ],
   "resolve":{"axis":{"x":"independent","y":"independent"}}
  },
  {"width":543,"height":86,
   "layer":[
    {"data":{"name":"rcb"},"mark":{"type":"line","color":"#2c4f9e","strokeWidth":1,"clip":true},
     "encoding":{"x":{"field":"t","type":"quantitative","scale":{"domain":[1080,3240],"nice":false},"axis":{"orient":"top","values":[1080,1140,1200,1260,1320,1380,1440,1500,1560,1620,1680,1740,1800,1860,1920,1980,2040,2100,2160,2220,2280,2340,2400,2460,2520,2580,2640,2700,2760,2820,2880,2940,3000,3060,3120,3180,3240],"labels":false,"title":null,"tickSize":{"condition":{"test":"datum.value % 360 === 0","value":-15},"value":-7}}},
      "y":{"field":"v","type":"quantitative","scale":{"domain":[0,0.0315],"nice":false},"axis":{"orient":"right","values":[0,0.005,0.01,0.015,0.02,0.025,0.03],"format":".3f","labelExpr":"round(datum.value*1000) % 10 === 0 ? datum.label : ''","labelPadding":27,"title":null,"tickSize":{"condition":{"test":"round(datum.value*1000) % 10 === 0","value":-15},"value":-7}}}}},
    {"data":{"name":"rs"},"mark":{"type":"line","color":"#e4312b","strokeWidth":1},
     "encoding":{"x":{"field":"t","type":"quantitative","scale":{"domain":[1080,3240],"nice":false},"axis":{"orient":"bottom","values":[1080,1140,1200,1260,1320,1380,1440,1500,1560,1620,1680,1740,1800,1860,1920,1980,2040,2100,2160,2220,2280,2340,2400,2460,2520,2580,2640,2700,2760,2820,2880,2940,3000,3060,3120,3180,3240],"labels":false,"title":null,"tickSize":{"condition":{"test":"datum.value % 360 === 0","value":-15},"value":-7}}},
      "y":{"field":"v","type":"quantitative","scale":{"domain":[0,0.0063],"nice":false},"axis":{"orient":"left","values":[0,0.001,0.002,0.003,0.004,0.005,0.006],"format":".3f","labelExpr":"round(datum.value*1000) % 2 === 0 ? datum.label : ''","labelPadding":27,"title":null,"tickSize":{"condition":{"test":"round(datum.value*1000) % 2 === 0","value":-15},"value":-8}}}}},
    {"data":{"values":[{}]},"mark":{"type":"rule","color":"#e4312b","strokeWidth":1.2},"encoding":{"x":{"datum":3061,"type":"quantitative","scale":{"domain":[1080,3240],"nice":false},"axis":null},"x2":{"datum":3148},"y":{"datum":0.00487,"type":"quantitative","scale":{"domain":[0,0.0063],"nice":false},"axis":null}}},
    {"data":{"values":[{}]},"mark":{"type":"rule","color":"#2c4f9e","strokeWidth":1.2},"encoding":{"x":{"datum":3061,"type":"quantitative","scale":{"domain":[1080,3240],"nice":false},"axis":null},"x2":{"datum":3148},"y":{"datum":0.00358,"type":"quantitative","scale":{"domain":[0,0.0063],"nice":false},"axis":null}}},
    {"data":{"values":[{}]},"mark":{"type":"text","text":"R","align":"right","baseline":"alphabetic","fontSize":20,"dx":-7},"encoding":{"x":{"datum":3041,"type":"quantitative","scale":{"domain":[1080,3240],"nice":false},"axis":null},"y":{"datum":0.00437,"type":"quantitative","scale":{"domain":[0,0.0063],"nice":false},"axis":null}}},
    {"data":{"values":[{}]},"mark":{"type":"text","text":"s","align":"right","baseline":"alphabetic","fontSize":14,"dy":4},"encoding":{"x":{"datum":3041,"type":"quantitative","scale":{"domain":[1080,3240],"nice":false},"axis":null},"y":{"datum":0.00437,"type":"quantitative","scale":{"domain":[0,0.0063],"nice":false},"axis":null}}},
    {"data":{"values":[{}]},"mark":{"type":"text","text":"Time-Shifted R","align":"right","baseline":"alphabetic","fontSize":20,"dx":-7},"encoding":{"x":{"datum":3041,"type":"quantitative","scale":{"domain":[1080,3240],"nice":false},"axis":null},"y":{"datum":0.00314,"type":"quantitative","scale":{"domain":[0,0.0063],"nice":false},"axis":null}}},
    {"data":{"values":[{}]},"mark":{"type":"text","text":"c","align":"right","baseline":"alphabetic","fontSize":14,"dy":5},"encoding":{"x":{"datum":3041,"type":"quantitative","scale":{"domain":[1080,3240],"nice":false},"axis":null},"y":{"datum":0.00314,"type":"quantitative","scale":{"domain":[0,0.0063],"nice":false},"axis":null}}},
    {"data":{"values":[{}]},"mark":{"type":"text","text":"(b)","align":"left","baseline":"alphabetic","fontSize":20},"encoding":{"x":{"datum":762,"type":"quantitative","scale":{"domain":[1080,3240],"nice":false},"axis":null},"y":{"datum":0.00756,"type":"quantitative","scale":{"domain":[0,0.0063],"nice":false},"axis":null}}},
    {"data":{"values":[{}]},"mark":{"type":"text","text":"R","align":"left","baseline":"alphabetic","fontSize":19,"angle":270,"dx":-19},"encoding":{"x":{"datum":762,"type":"quantitative","scale":{"domain":[1080,3240],"nice":false},"axis":null},"y":{"datum":0.00315,"type":"quantitative","scale":{"domain":[0,0.0063],"nice":false},"axis":null}}},
    {"data":{"values":[{}]},"mark":{"type":"text","text":"s","align":"left","baseline":"alphabetic","fontSize":13,"angle":270,"dx":-5.3,"dy":4},"encoding":{"x":{"datum":762,"type":"quantitative","scale":{"domain":[1080,3240],"nice":false},"axis":null},"y":{"datum":0.00315,"type":"quantitative","scale":{"domain":[0,0.0063],"nice":false},"axis":null}}},
    {"data":{"values":[{}]},"mark":{"type":"text","text":"(t)","align":"left","baseline":"alphabetic","fontSize":19,"angle":270,"dx":1.2},"encoding":{"x":{"datum":762,"type":"quantitative","scale":{"domain":[1080,3240],"nice":false},"axis":null},"y":{"datum":0.00315,"type":"quantitative","scale":{"domain":[0,0.0063],"nice":false},"axis":null}}},
    {"data":{"values":[{}]},"mark":{"type":"text","text":"R","align":"left","baseline":"alphabetic","fontSize":19,"angle":270,"dx":-40.5},"encoding":{"x":{"datum":3605,"type":"quantitative","scale":{"domain":[1080,3240],"nice":false},"axis":null},"y":{"datum":0.00315,"type":"quantitative","scale":{"domain":[0,0.0063],"nice":false},"axis":null}}},
    {"data":{"values":[{}]},"mark":{"type":"text","text":"c","align":"left","baseline":"alphabetic","fontSize":13,"angle":270,"dx":-26.8,"dy":4},"encoding":{"x":{"datum":3605,"type":"quantitative","scale":{"domain":[1080,3240],"nice":false},"axis":null},"y":{"datum":0.00315,"type":"quantitative","scale":{"domain":[0,0.0063],"nice":false},"axis":null}}},
    {"data":{"values":[{}]},"mark":{"type":"text","text":"(t+120)","align":"left","baseline":"alphabetic","fontSize":19,"angle":270,"dx":-20.3},"encoding":{"x":{"datum":3605,"type":"quantitative","scale":{"domain":[1080,3240],"nice":false},"axis":null},"y":{"datum":0.00315,"type":"quantitative","scale":{"domain":[0,0.0063],"nice":false},"axis":null}}}
   ],
   "resolve":{"scale":{"y":"independent"},"axis":{"x":"independent","y":"independent"}}
  },
  {"width":543,"height":138,
   "layer":[
    {"data":{"name":"idEarly"},"mark":{"type":"square","size":4,"color":"#e4312b","opacity":1},
     "encoding":{"x":{"field":"t","type":"quantitative","scale":{"domain":[1080,3240],"nice":false},"axis":{"orient":"bottom","values":[1080,1140,1200,1260,1320,1380,1440,1500,1560,1620,1680,1740,1800,1860,1920,1980,2040,2100,2160,2220,2280,2340,2400,2460,2520,2580,2640,2700,2760,2820,2880,2940,3000,3060,3120,3180,3240],"labels":false,"title":null,"tickSize":{"condition":{"test":"datum.value % 360 === 0","value":-15},"value":-7}}},
      "y":{"field":"v","type":"quantitative","scale":{"domain":[0,1.98],"nice":false},"axis":{"orient":"left","values":[0,0.3,0.6,0.9,1.2,1.5,1.8],"format":".1f","labelExpr":"round(datum.value*10) % 6 === 0 ? datum.label : ''","labelPadding":25,"tickSize":-13,"title":["Individual","Dynamics"],"titlePadding":20}}}},
    {"data":{"name":"idbLate"},"mark":{"type":"square","size":4,"color":"#e4312b","opacity":1},
     "encoding":{"x":{"field":"t","type":"quantitative","scale":{"domain":[1080,3240],"nice":false},"axis":null},"y":{"field":"v","type":"quantitative","scale":{"domain":[0,1.98],"nice":false},"axis":null}}},
    {"data":{"name":"idbCurve"},"mark":{"type":"line","color":"#e4312b","strokeWidth":1.5},
     "encoding":{"x":{"field":"t","type":"quantitative","scale":{"domain":[1080,3240],"nice":false},"axis":{"orient":"top","values":[1080,1140,1200,1260,1320,1380,1440,1500,1560,1620,1680,1740,1800,1860,1920,1980,2040,2100,2160,2220,2280,2340,2400,2460,2520,2580,2640,2700,2760,2820,2880,2940,3000,3060,3120,3180,3240],"labels":false,"title":null,"tickSize":{"condition":{"test":"datum.value % 360 === 0","value":-15},"value":-7}}},
      "y":{"field":"v","type":"quantitative","scale":{"domain":[0,1.98],"nice":false},"axis":{"orient":"right","values":[0,0.3,0.6,0.9,1.2,1.5,1.8],"labels":false,"tickSize":-13,"title":null}}}}
   ],
   "resolve":{"axis":{"x":"independent","y":"independent"}}
  },
  {"width":543,"height":75,
   "layer":[
    {"data":{"name":"srb"},"mark":{"type":"line","color":"#e4312b","strokeWidth":1},
     "encoding":{"x":{"field":"t","type":"quantitative","scale":{"domain":[1080,3240],"nice":false},"axis":{"orient":"bottom","values":[1080,1140,1200,1260,1320,1380,1440,1500,1560,1620,1680,1740,1800,1860,1920,1980,2040,2100,2160,2220,2280,2340,2400,2460,2520,2580,2640,2700,2760,2820,2880,2940,3000,3060,3120,3180,3240],"format":"d","labelExpr":"datum.value % 360 === 0 ? datum.label : ''","labelFontSize":17,"labelPadding":25,"title":"t (min : t=0 at 00:00 on March 11, 2011)","titlePadding":-6,"titleFontSize":19,"tickSize":{"condition":{"test":"datum.value % 360 === 0","value":-15},"value":-7}}},
      "y":{"field":"g","type":"quantitative","scale":{"domain":[0,1],"nice":false},"axis":{"orient":"left","values":[0,0.1,0.2,0.3,0.4,0.5,0.6,0.7,0.8,0.9,1],"format":".1f","labelExpr":"round(datum.value*10) % 5 === 0 ? datum.label : ''","labelPadding":27,"tickSize":{"condition":{"test":"round(datum.value*10) % 5 === 0","value":-15},"value":-8},"title":["States","Ratio"],"titlePadding":20}}}},
    {"data":{"name":"srb"},"mark":{"type":"line","color":"#2c4f9e","strokeWidth":1},
     "encoding":{"x":{"field":"t","type":"quantitative","scale":{"domain":[1080,3240],"nice":false},"axis":{"orient":"top","values":[1080,1140,1200,1260,1320,1380,1440,1500,1560,1620,1680,1740,1800,1860,1920,1980,2040,2100,2160,2220,2280,2340,2400,2460,2520,2580,2640,2700,2760,2820,2880,2940,3000,3060,3120,3180,3240],"labels":false,"title":null,"tickSize":{"condition":{"test":"datum.value % 360 === 0","value":-15},"value":-7}}},
      "y":{"field":"e","type":"quantitative","scale":{"domain":[0,1],"nice":false},"axis":{"orient":"right","values":[0,0.1,0.2,0.3,0.4,0.5,0.6,0.7,0.8,0.9,1],"labels":false,"title":null,"tickSize":{"condition":{"test":"round(datum.value*10) % 5 === 0","value":-15},"value":-8}}}}},
    {"data":{"name":"srb"},"mark":{"type":"line","color":"#76b947","strokeWidth":1},
     "encoding":{"x":{"field":"t","type":"quantitative","scale":{"domain":[1080,3240],"nice":false},"axis":null},"y":{"field":"f","type":"quantitative","scale":{"domain":[0,1],"nice":false},"axis":null}}},
    {"data":{"values":[{}]},"mark":{"type":"rule","color":"#e4312b","strokeWidth":1.2},"encoding":{"x":{"datum":3494,"type":"quantitative","scale":{"domain":[1080,3240],"nice":false},"axis":null},"x2":{"datum":3582},"y":{"datum":0.743,"type":"quantitative","scale":{"domain":[0,1],"nice":false},"axis":null}}},
    {"data":{"values":[{}]},"mark":{"type":"rule","color":"#2c4f9e","strokeWidth":1.2},"encoding":{"x":{"datum":3494,"type":"quantitative","scale":{"domain":[1080,3240],"nice":false},"axis":null},"x2":{"datum":3582},"y":{"datum":0.503,"type":"quantitative","scale":{"domain":[0,1],"nice":false},"axis":null}}},
    {"data":{"values":[{}]},"mark":{"type":"rule","color":"#76b947","strokeWidth":1.2},"encoding":{"x":{"datum":3494,"type":"quantitative","scale":{"domain":[1080,3240],"nice":false},"axis":null},"x2":{"datum":3582},"y":{"datum":0.267,"type":"quantitative","scale":{"domain":[0,1],"nice":false},"axis":null}}},
    {"data":{"values":[{}]},"mark":{"type":"text","text":"n","align":"right","baseline":"alphabetic","fontSize":19,"dx":-26},"encoding":{"x":{"datum":3439,"type":"quantitative","scale":{"domain":[1080,3240],"nice":false},"axis":null},"y":{"datum":0.676,"type":"quantitative","scale":{"domain":[0,1],"nice":false},"axis":null}}},
    {"data":{"values":[{}]},"mark":{"type":"text","text":"G","align":"right","baseline":"alphabetic","fontSize":13,"dx":-15.8,"dy":5},"encoding":{"x":{"datum":3439,"type":"quantitative","scale":{"domain":[1080,3240],"nice":false},"axis":null},"y":{"datum":0.676,"type":"quantitative","scale":{"domain":[0,1],"nice":false},"axis":null}}},
    {"data":{"values":[{}]},"mark":{"type":"text","text":"/n","align":"right","baseline":"alphabetic","fontSize":19},"encoding":{"x":{"datum":3439,"type":"quantitative","scale":{"domain":[1080,3240],"nice":false},"axis":null},"y":{"datum":0.676,"type":"quantitative","scale":{"domain":[0,1],"nice":false},"axis":null}}},
    {"data":{"values":[{}]},"mark":{"type":"text","text":"n","align":"right","baseline":"alphabetic","fontSize":19,"dx":-24.5},"encoding":{"x":{"datum":3439,"type":"quantitative","scale":{"domain":[1080,3240],"nice":false},"axis":null},"y":{"datum":0.444,"type":"quantitative","scale":{"domain":[0,1],"nice":false},"axis":null}}},
    {"data":{"values":[{}]},"mark":{"type":"text","text":"E","align":"right","baseline":"alphabetic","fontSize":13,"dx":-15.8,"dy":5},"encoding":{"x":{"datum":3439,"type":"quantitative","scale":{"domain":[1080,3240],"nice":false},"axis":null},"y":{"datum":0.444,"type":"quantitative","scale":{"domain":[0,1],"nice":false},"axis":null}}},
    {"data":{"values":[{}]},"mark":{"type":"text","text":"/n","align":"right","baseline":"alphabetic","fontSize":19},"encoding":{"x":{"datum":3439,"type":"quantitative","scale":{"domain":[1080,3240],"nice":false},"axis":null},"y":{"datum":0.444,"type":"quantitative","scale":{"domain":[0,1],"nice":false},"axis":null}}},
    {"data":{"values":[{}]},"mark":{"type":"text","text":"n","align":"right","baseline":"alphabetic","fontSize":19,"dx":-23.7},"encoding":{"x":{"datum":3439,"type":"quantitative","scale":{"domain":[1080,3240],"nice":false},"axis":null},"y":{"datum":0.213,"type":"quantitative","scale":{"domain":[0,1],"nice":false},"axis":null}}},
    {"data":{"values":[{}]},"mark":{"type":"text","text":"F","align":"right","baseline":"alphabetic","fontSize":13,"dx":-15.8,"dy":5},"encoding":{"x":{"datum":3439,"type":"quantitative","scale":{"domain":[1080,3240],"nice":false},"axis":null},"y":{"datum":0.213,"type":"quantitative","scale":{"domain":[0,1],"nice":false},"axis":null}}},
    {"data":{"values":[{}]},"mark":{"type":"text","text":"/n","align":"right","baseline":"alphabetic","fontSize":19},"encoding":{"x":{"datum":3439,"type":"quantitative","scale":{"domain":[1080,3240],"nice":false},"axis":null},"y":{"datum":0.213,"type":"quantitative","scale":{"domain":[0,1],"nice":false},"axis":null}}}
   ],
   "resolve":{"axis":{"x":"independent","y":"independent"}}
  }
]
}
